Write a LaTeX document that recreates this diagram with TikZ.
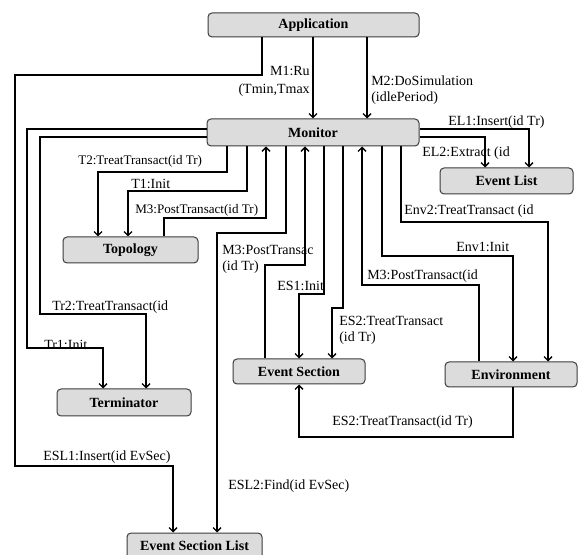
\documentclass[tikz,border=0pt]{standalone}
\usepackage{fontspec}
\setmainfont{Liberation Serif}
\usepackage{tikz}
\usetikzlibrary{arrows.meta}
\definecolor{unitfill}{HTML}{DCDCDC}
\definecolor{unitline}{HTML}{3C3C3C}

\begin{document}
\begin{tikzpicture}[
  x=0.75pt, y=-0.75pt,
  unit/.style={draw=unitline, line width=0.75pt, rounded corners=3pt, fill=unitfill, inner sep=0pt, minimum width=100pt, minimum height=19.5pt, font=\fontsize{10.5pt}{12pt}\selectfont\bfseries},
  link/.style={draw=black, line width=1pt},
  msg/.style={link, -{Straight Barb[length=3pt,width=6pt]}},
  lbl/.style={inner sep=0pt, anchor=west, align=left, font=\fontsize{10.5pt}{11.5pt}\selectfont},
  small lbl/.style={lbl, font=\fontsize{9.8pt}{11.5pt}\selectfont}
]
\useasboundingbox (0,0) rectangle (578,555);
\node[unit, minimum width=158.25pt, minimum height=18pt] (app) at (313.5,25) {Application};
\node[unit, minimum width=159pt, minimum height=20.25pt] (mon) at (313,132.5) {Monitor};
\node[unit, minimum width=101.25pt] (topo) at (130.5,250) {Topology};
\node[unit, minimum width=99.75pt] (elist) at (506.5,181) {Event List};
\node[unit, minimum width=100.5pt, minimum height=20.25pt] (term) at (124,402.5) {Terminator};
\node[unit, minimum width=99pt, minimum height=18.75pt] (esec) at (299,371.5) {Event Section};
\node[unit, minimum width=99pt, minimum height=18.75pt] (env) at (511,374.5) {Environment};
\node[unit, minimum width=101.25pt] (esl) at (194.5,546) {Event Section List};
% Application -> Monitor
\draw[msg] (app.south -| 313,0) -- (mon.north -| 313,0);
\draw[msg] (app.south -| 367,0) -- (mon.north -| 367,0);
\draw[msg] (app.south -| 262,0) |- (15,75) |- (173,466) -- (esl.north -| 173,0);
\node[lbl, anchor=east, align=right, font=\fontsize{10.5pt}{13pt}\selectfont] (m1) at (310,81.5) {M1:Ru\\(Tmin,Tmax};
\node[lbl] (m2) at (371,90) {M2:DoSimulation\\(idlePeriod)};
\node[lbl] (esl1) at (43,457) {ESL1:Insert(id EvSec)};
% Monitor -> Terminator
\draw[msg] (mon.west |- 0,129) -| (27,348) -| (term.north -| 103,0);
\draw[msg] (mon.west |- 0,137) -| (40,314) -| (term.north -| 146,0);
\node[lbl] (tr1) at (44,345) {Tr1:Init};
\node[lbl] (tr2) at (52,307) {Tr2:TreatTransact(id};
% Monitor <-> Topology
\draw[msg] (mon.south -| 227,0) |- (98,172) -- (topo.north -| 98,0);
\draw[msg] (mon.south -| 247,0) |- (128,191) -- (topo.north -| 128,0);
\draw[msg] (topo.north -| 164,0) |- (266,218) -- (mon.south -| 266,0);
\node[small lbl] (t2) at (78,161) {T2:TreatTransact(id Tr)};
\node[lbl] (t1) at (131,184) {T1:Init};
\node[small lbl] (m3t) at (135,210) {M3:PostTransact(id Tr)};
% Monitor -> Event Section List
\draw[msg] (mon.south -| 286,0) |- (217,233) -- (esl.north -| 217,0);
\node[lbl] (esl2) at (228,486) {ESL2:Find(id EvSec)};
% Monitor <-> Event Section
\draw[msg] (esec.north -| 265,0) |- (305,265) -- (mon.south -| 305,0);
\draw[msg] (mon.south -| 324,0) |- (299,294) -- (esec.north -| 299,0);
\draw[msg] (mon.south -| 343,0) |- (332,308) -- (esec.north -| 332,0);
\node[lbl] (m3s) at (222,259.5) {M3:PostTransac\\(id Tr)};
\node[lbl] (es1) at (277,286) {ES1:Init};
\node[lbl] (es2) at (339,330.5) {ES2:TreatTransact\\(id Tr)};
% Monitor <-> Environment
\draw[msg] (env.north -| 479,0) |- (362,285) -- (mon.south -| 362,0);
\draw[msg] (mon.south -| 382,0) |- (513,256) -- (env.north -| 513,0);
\draw[msg] (mon.south -| 401,0) |- (548,222) -- (env.north -| 548,0);
\node[lbl] (m3e) at (367,276) {M3:PostTransact(id};
\node[lbl] (env1) at (456,247) {Env1:Init};
\node[lbl] (env2) at (404,211) {Env2:TreatTransact (id};
% Monitor -> Event List
\draw[msg] (mon.east |- 0,129) -| (elist.north -| 529,0);
\draw[msg] (mon.east |- 0,137) -| (elist.north -| 485,0);
\node[lbl] (el1) at (448,122) {EL1:Insert(id Tr)};
\node[lbl] (el2) at (422,153) {EL2:Extract (id};
% Environment -> Event Section
\draw[msg] (env.south -| 513,0) |- (299,437) -- (esec.south -| 299,0);
\node[lbl] (es2b) at (332,422) {ES2:TreatTransact(id Tr)};
\end{tikzpicture}
\end{document}
